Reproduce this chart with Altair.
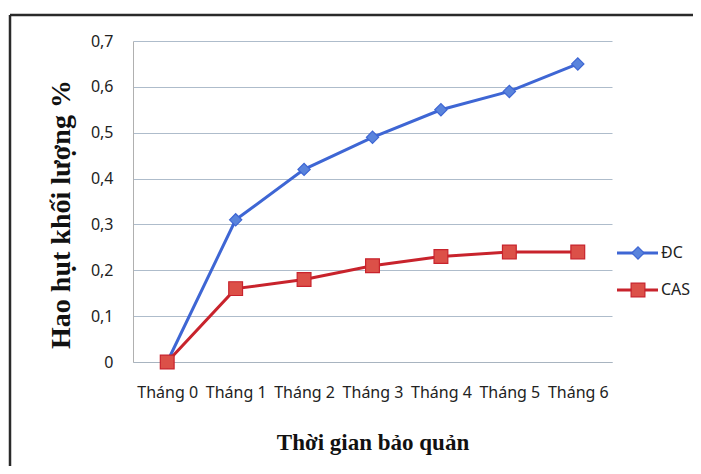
import altair as alt
import pandas as pd

months = ["Tháng 0", "Tháng 1", "Tháng 2", "Tháng 3", "Tháng 4", "Tháng 5", "Tháng 6"]
dc = [0.0, 0.31, 0.42, 0.49, 0.55, 0.59, 0.65]
cas = [0.0, 0.16, 0.18, 0.21, 0.23, 0.24, 0.24]
series = ["ĐC", "CAS"]
y_ticks = [0, 0.1, 0.2, 0.3, 0.4, 0.5, 0.6, 0.7]

line_colors = ["#3e66d4", "#c8232c"]
marker_fills = ["#5a84dc", "#dc5048"]
shapes = ["diamond", "square"]
marker_sizes = [150, 190]

rows = []
for s, vals in zip(series, [dc, cas]):
    for m, v in zip(months, vals):
        rows.append({"month": m, "value": v, "series": s})
df = pd.DataFrame(rows)

x_enc = alt.X(
    "month:O",
    sort=months,
    scale=alt.Scale(padding=0.5),
    axis=alt.Axis(
        title="Thời gian bảo quản",
        labelAngle=0,
        ticks=False,
        labelPadding=22,
        labelFont="Noto Sans",
        labelFontSize=16,
        labelColor="#222222",
        domainColor="#a8b4c0",
        grid=False,
        titleFont="Liberation Serif",
        titleFontSize=23,
        titleFontWeight="bold",
        titleColor="#111111",
        titlePadding=31,
    ),
)
y_enc = alt.Y(
    "value:Q",
    scale=alt.Scale(domain=[0, 0.7], nice=False),
    axis=alt.Axis(
        title="Hao hụt khối lượng %",
        values=y_ticks,
        labelExpr="datum.value == 0 ? '0' : replace(format(datum.value, '.1f'), '.', ',')",
        ticks=False,
        labelPadding=20,
        labelFont="Noto Sans",
        labelFontSize=16,
        labelColor="#222222",
        domainColor="#b0b0b0",
        gridColor="#aebccb",
        gridWidth=1,
        titleFont="Liberation Serif",
        titleFontSize=28,
        titleFontWeight="bold",
        titleColor="#111111",
        titleAngle=270,
        titleAlign="center",
        titleBaseline="middle",
        titleX=-72,
        titleY=173,
    ),
)

lines = alt.Chart(df).mark_line(strokeWidth=3).encode(
    x=x_enc,
    y=y_enc,
    color=alt.Color("series:N", scale=alt.Scale(domain=series, range=line_colors), legend=None),
)

layers = [lines]
for i, s in enumerate(series):
    layers.append(
        alt.Chart(df).transform_filter(alt.datum.series == s).mark_point(
            shape=shapes[i], filled=True, opacity=1, size=marker_sizes[i],
            fill=marker_fills[i], stroke=line_colors[i], strokeWidth=1.2,
        ).encode(x=x_enc, y=y_enc)
    )

# legend (drawn as decoration at the right of the plot)
legend_rows = [212, 249]
for i, s in enumerate(series):
    ldf = pd.DataFrame({"series": [s]})
    yv = alt.value(legend_rows[i])
    layers.append(
        alt.Chart(ldf).mark_rule(color=line_colors[i], strokeWidth=3).encode(
            x=alt.value(484), x2=alt.value(525), y=yv
        )
    )
    layers.append(
        alt.Chart(ldf).mark_point(
            shape=shapes[i], filled=True, opacity=1, size=marker_sizes[i],
            fill=marker_fills[i], stroke=line_colors[i], strokeWidth=1.2,
        ).encode(x=alt.value(505), y=yv)
    )
    layers.append(
        alt.Chart(ldf).mark_text(
            align="left", baseline="middle", font="Noto Sans", fontSize=16, color="#222222"
        ).encode(x=alt.value(528), y=yv, text="series:N")
    )

frame_df = pd.DataFrame({"k": [0]})
layers.append(
    alt.Chart(frame_df).mark_rule(color="#2a2a2a", strokeWidth=2.5).encode(
        x=alt.value(-123), x2=alt.value(600), y=alt.value(-26)
    )
)
layers.append(
    alt.Chart(frame_df).mark_rule(color="#2a2a2a", strokeWidth=2.5).encode(
        x=alt.value(-123), y=alt.value(-26), y2=alt.value(480)
    )
)

chart = (
    alt.layer(*layers)
    .properties(
        width=479,
        height=321,
        autosize=alt.AutoSizeParams(type="none"),
        padding={"left": 125, "top": 33, "right": 81, "bottom": 104},
        background="#ffffff",
    )
    .configure_view(strokeWidth=0)
)

chart.save("out.html", embed_options={"renderer": "svg", "actions": False})
